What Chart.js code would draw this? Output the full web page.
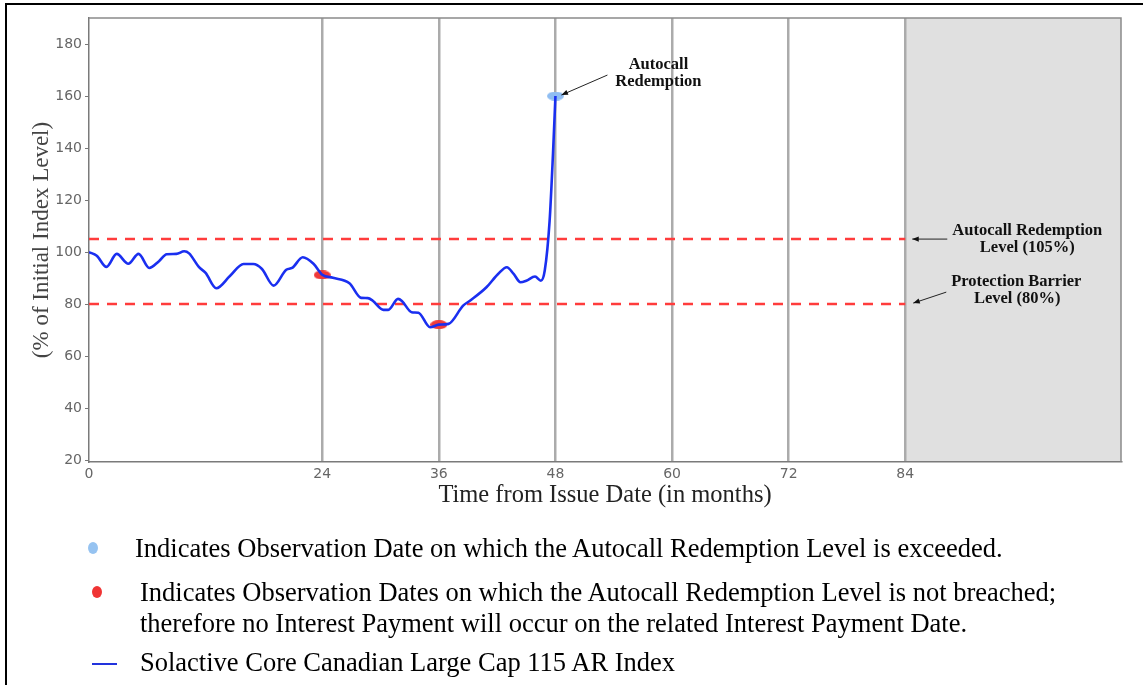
<!DOCTYPE html>
<html>
<head>
<meta charset="utf-8">
<script src="https://cdn.jsdelivr.net/npm/chart.js@4.4.1/dist/chart.umd.min.js"></script>
<style>
  html, body { margin: 0; padding: 0; background: #fff; overflow: hidden; }
  body { width: 1143px; height: 685px; position: relative; font-family: 'Liberation Serif', 'Times New Roman', serif; }
  #chart { position: absolute; left: 0; top: 0; }
  #frame { position: absolute; left: 5px; top: 3px; width: 1200px; height: 800px; border-left: 2.5px solid #000; border-top: 2.5px solid #000; }
  .note { position: absolute; font-size: 26.5px; line-height: 31px; color: #000; white-space: nowrap; }
  .dot { position: absolute; border-radius: 50%; }
</style>
</head>
<body>
<canvas id="chart" width="1143" height="520"></canvas>
<div id="frame"></div>

<div class="dot" style="left:88px; top:542px; width:10px; height:12px; background:#96c3f1"></div>
<div class="note" style="left:135px; top:533px">Indicates Observation Date on which the Autocall Redemption Level is exceeded.</div>
<div class="dot" style="left:92px; top:586px; width:10px; height:12px; background:#f03434"></div>
<div class="note" style="left:140px; top:577px">Indicates Observation Dates on which the Autocall Redemption Level is not breached;<br>therefore no Interest Payment will occur on the related Interest Payment Date.</div>
<div style="position:absolute; left:92px; top:663px; width:25px; height:2px; background:#2233dd"></div>
<div class="note" style="left:140px; top:647px">Solactive Core Canadian Large Cap 115 AR Index</div>

<script>
// axis ticks
const monthTicks = [0, 24, 36, 48, 60, 72, 84];
const levelTicks = [20, 40, 60, 80, 100, 120, 140, 160, 180];

// index path (% of initial level)
const indexMonths = [0, 0.8, 1.8, 2.85, 4.05, 5.1, 6.2, 7.2, 8.0, 9.0, 9.8, 10.3, 11.3, 12.0, 13.1, 14.5,
    15.9, 16.9, 17.8, 19.0, 20.3, 20.9, 22.0, 23.1, 24.0, 25.1, 26.8, 28.0, 28.7, 29.2, 30.3, 30.8,
    31.8, 32.2, 33.2, 33.9, 35.1, 36.0, 37.0, 38.5, 39.2, 40.9, 42.1, 43.0, 43.7, 44.4, 45.0, 45.9,
    46.5, 46.9, 47.4, 47.75, 48];
const indexLevels = [100, 98.6, 94.3, 99.3, 95.5, 99.3, 93.9, 96.5, 99.2, 99.3, 100.3, 99.5, 94.3, 92.0, 86.1, 90.8,
    95.4, 95.4, 93.5, 87.1, 93.2, 93.9, 98.0, 95.5, 91.3, 90.1, 88.0, 82.4, 82.3, 81.3, 77.8, 77.8,
    82.0, 81.2, 76.9, 76.7, 71.1, 72.1, 72.4, 79.4, 81.3, 86.5, 91.6, 94.2, 91.6, 88.4, 89.0, 90.6,
    89.0, 92.9, 112, 138, 160];

// barrier levels
const barrierMonths = [0, 84];
const autocallLevel = [105, 105];
const protectionLevel = [80, 80];

// observation dates
const missedMonths = [24, 36];
const missedLevels = [91.2, 72.1];
const calledMonths = [48];
const calledLevels = [160];

function toPoints(xs, ys) {
    return xs.map((x, i) => ({ x: x, y: ys[i] }));
}

// flat ellipse used as the observation marker
function ellipseMark(color) {
    const c = document.createElement('canvas');
    c.width = 17;
    c.height = 9;
    const g = c.getContext('2d');
    g.fillStyle = color;
    g.beginPath();
    g.ellipse(8.5, 4.5, 8.5, 4.5, 0, 0, Math.PI * 2);
    g.fill();
    return c;
}

function arrow(ctx, x1, y1, x2, y2) {
    ctx.beginPath();
    ctx.moveTo(x1, y1);
    ctx.lineTo(x2, y2);
    ctx.stroke();
    const a = Math.atan2(y2 - y1, x2 - x1);
    ctx.beginPath();
    ctx.moveTo(x2, y2);
    ctx.lineTo(x2 - 7 * Math.cos(a - 0.38), y2 - 7 * Math.sin(a - 0.38));
    ctx.lineTo(x2 - 7 * Math.cos(a + 0.38), y2 - 7 * Math.sin(a + 0.38));
    ctx.closePath();
    ctx.fill();
}

// grey area after maturity, plot frame and the notes with arrows
const decorations = {
    id: 'decorations',
    beforeDraw(chart) {
        const { ctx, chartArea, scales } = chart;
        const x84 = scales.x.getPixelForValue(84);
        ctx.save();
        ctx.fillStyle = '#e0e0e0';
        ctx.fillRect(x84, chartArea.top, chartArea.right - x84, chartArea.bottom - chartArea.top);
        ctx.restore();
    },
    afterDraw(chart) {
        const { ctx, chartArea, scales } = chart;
        ctx.save();
        ctx.strokeStyle = '#8a8a8a';
        ctx.lineWidth = 1.5;
        ctx.beginPath();
        ctx.moveTo(chartArea.left, chartArea.top);
        ctx.lineTo(chartArea.right, chartArea.top);
        ctx.lineTo(chartArea.right, chartArea.bottom);
        ctx.stroke();

        ctx.fillStyle = '#111';
        ctx.strokeStyle = '#222';
        ctx.lineWidth = 1;
        ctx.font = 'bold 16.5px "Liberation Serif"';
        ctx.textAlign = 'center';
        ctx.textBaseline = 'middle';

        const mx = scales.x.getPixelForValue(calledMonths[0]);
        const my = scales.y.getPixelForValue(calledLevels[0]);
        ctx.fillText('Autocall', mx + 103, my - 31);
        ctx.fillText('Redemption', mx + 103, my - 14);
        arrow(ctx, mx + 52, my - 21, mx + 6, my - 1);

        const rx = scales.x.getPixelForValue(84);
        const ly = scales.y.getPixelForValue(autocallLevel[0]);
        ctx.fillText('Autocall Redemption', rx + 122, ly - 8);
        ctx.fillText('Level (105%)', rx + 122, ly + 9);
        arrow(ctx, rx + 42, ly, rx + 7, ly);

        const py = scales.y.getPixelForValue(protectionLevel[0]);
        ctx.fillText('Protection Barrier', rx + 111, py - 22);
        ctx.fillText('Level (80%)', rx + 112, py - 5);
        arrow(ctx, rx + 41, py - 12, rx + 8, py - 1);
        ctx.restore();
    }
};

const ctx = document.getElementById('chart').getContext('2d');
new Chart(ctx, {
    type: 'line',
    data: {
        datasets: [
            {
                label: 'Solactive Core Canadian Large Cap 115 AR Index',
                data: toPoints(indexMonths, indexLevels),
                borderColor: '#1a2ff0',
                borderWidth: 2.6,
                pointRadius: 0,
                cubicInterpolationMode: 'monotone',
                fill: false,
                order: 0
            },
            {
                label: 'Not breached',
                data: toPoints(missedMonths, missedLevels),
                showLine: false,
                pointStyle: ellipseMark('#f03a3a'),
                order: 1
            },
            {
                label: 'Exceeded',
                data: toPoints(calledMonths, calledLevels),
                showLine: false,
                pointStyle: ellipseMark('#8fbdf2'),
                order: 1
            },
            {
                label: 'Autocall Redemption Level',
                data: toPoints(barrierMonths, autocallLevel),
                borderColor: '#ff3c3c',
                borderWidth: 2.5,
                borderDash: [10, 8],
                pointRadius: 0,
                order: 2
            },
            {
                label: 'Protection Barrier Level',
                data: toPoints(barrierMonths, protectionLevel),
                borderColor: '#ff3c3c',
                borderWidth: 2.5,
                borderDash: [10, 8],
                pointRadius: 0,
                order: 2
            }
        ]
    },
    options: {
        responsive: false,
        animation: false,
        events: [],
        layout: { padding: { left: 0, top: 18, right: 22, bottom: 0 } },
        plugins: {
            legend: { display: false },
            tooltip: { enabled: false }
        },
        scales: {
            x: {
                type: 'linear',
                min: 0,
                max: 106.2,
                afterBuildTicks: s => { s.ticks = monthTicks.map(v => ({ value: v })); },
                afterFit: s => { s.height = 58; },
                grid: {
                    color: c => (c.tick && c.tick.value === 0) ? 'rgba(0,0,0,0)' : '#ababab',
                    lineWidth: 2.5,
                    drawTicks: false
                },
                border: { color: '#7a7a7a', width: 1.5 },
                ticks: {
                    color: '#666',
                    font: { family: 'DejaVu Sans', size: 14 },
                    padding: 4,
                    maxRotation: 0,
                    autoSkip: false
                },
                title: {
                    display: true,
                    text: 'Time from Issue Date (in months)',
                    color: '#222',
                    font: { family: 'Liberation Serif', size: 24.5 },
                    padding: { top: 0, bottom: 10 }
                }
            },
            y: {
                min: 19.3,
                max: 190,
                afterBuildTicks: s => { s.ticks = levelTicks.map(v => ({ value: v })); },
                afterFit: s => { s.width = 89; },
                grid: {
                    drawOnChartArea: false,
                    drawTicks: true,
                    tickLength: 4,
                    color: '#777',
                    lineWidth: 1
                },
                border: { color: '#7a7a7a', width: 1.5 },
                ticks: {
                    color: '#666',
                    font: { family: 'DejaVu Sans', size: 14 },
                    padding: 3
                },
                title: {
                    display: true,
                    text: '(% of Initial Index Level)',
                    color: '#444',
                    font: { family: 'Liberation Serif', size: 23 },
                    padding: { top: 28, bottom: 0 }
                }
            }
        }
    },
    plugins: [decorations]
});
</script>
</body>
</html>
